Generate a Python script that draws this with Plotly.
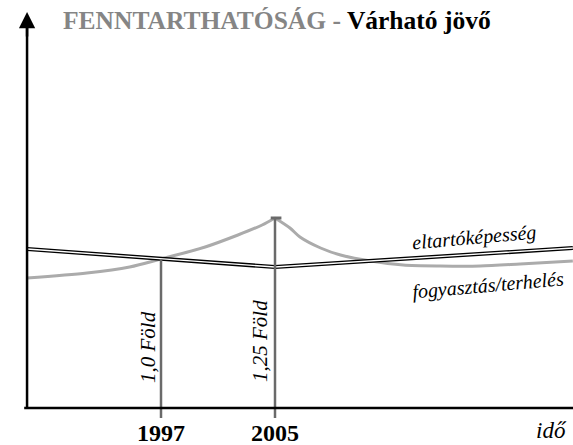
import plotly.graph_objects as go

# ---- data ----
cons_rise_years = [1987.6, 1991.8, 1994.8, 1997, 2000.1, 2002.4, 2004.1, 2005]
cons_rise_vals = [130, 135, 141, 149, 161, 173, 183, 190]
cons_fall_years = [2005, 2006.05, 2006.75, 2008.2, 2009.6, 2011.7, 2014.0, 2016.6, 2019.4, 2022.2, 2025.9]
cons_fall_vals = [190, 180, 171, 160, 153, 147, 143, 142, 142, 144, 147]
cap_years = [1987.6, 2005, 2025.9]
cap_vals = [159, 141, 160]
marker_years = [1997, 2005]
marker_tops = [149, 190]
marker_labels = ["1,0 Föld", "1,25 Föld"]
tick_labels = ["1997", "2005"]

# body margin is removed by the post script, so figure pixels == screen pixels
PXYR = 14.25
X0 = 1997 - 161 / PXYR
X1 = X0 + 573 / PXYR
Y1 = 408
Y0 = Y1 - 445
AXIS_X = 1987.6


def px(sx):
    return sx / 573


SERIF = "Liberation Serif, Times New Roman, serif"
GRAY_CURVE = "#ababab"
GRAY_LINE = "#6a6a6a"

fig = go.Figure()

for xs, ys in [(cons_rise_years, cons_rise_vals), (cons_fall_years, cons_fall_vals)]:
    fig.add_trace(go.Scatter(x=xs, y=ys, mode="lines",
                             line=dict(color=GRAY_CURVE, width=3, shape="spline", smoothing=0.8),
                             hoverinfo="skip", showlegend=False))

fig.add_trace(go.Scatter(x=cap_years, y=cap_vals, mode="lines",
                         line=dict(color="black", width=4), hoverinfo="skip", showlegend=False))
fig.add_trace(go.Scatter(x=cap_years, y=cap_vals, mode="lines",
                         line=dict(color="white", width=1.3), hoverinfo="skip", showlegend=False))

for yr, top in zip(marker_years, marker_tops):
    fig.add_trace(go.Scatter(x=[yr, yr], y=[top, -10], mode="lines",
                             line=dict(color=GRAY_LINE, width=2.5),
                             hoverinfo="skip", showlegend=False))
fig.add_trace(go.Scatter(x=[marker_years[1] - 0.3, marker_years[1] + 0.45],
                         y=[marker_tops[1], marker_tops[1]], mode="lines",
                         line=dict(color=GRAY_LINE, width=3),
                         hoverinfo="skip", showlegend=False))

shapes = [
    dict(type="line", xref="x", yref="y", x0=AXIS_X - 0.2, x1=X1, y0=0, y1=0,
         line=dict(color="black", width=2.5)),
    dict(type="line", xref="x", yref="y", x0=AXIS_X, x1=AXIS_X, y0=0, y1=380,
         line=dict(color="black", width=2.5)),
]

annotations = [
    dict(x=AXIS_X, y=396, ax=AXIS_X, ay=370, xref="x", yref="y", axref="x", ayref="y",
         text="", showarrow=True, arrowhead=2, arrowsize=1.3, arrowwidth=2.5, arrowcolor="black"),
    dict(x=px(61), y=388, xref="paper", yref="y", xanchor="left", yanchor="middle",
         text="<b><span style='color:#858585'>FENNTARTHATÓSÁG - </span><span style='color:black'>Várható jövő</span></b>",
         showarrow=False, font=dict(family=SERIF, size=25.5, color="black")),
    dict(x=px(551), y=408 - 430, xref="paper", yref="y", xanchor="center", yanchor="middle",
         text="<i>idő</i>", showarrow=False, font=dict(family=SERIF, size=23, color="black")),
    dict(x=px(474), y=408 - 237, xref="paper", yref="y", xanchor="center", yanchor="middle",
         text="<i>eltartóképesség</i>", textangle=-5, showarrow=False,
         font=dict(family=SERIF, size=20, color="black")),
    dict(x=px(488), y=408 - 285, xref="paper", yref="y", xanchor="center", yanchor="middle",
         text="<i>fogyasztás/terhelés</i>", textangle=-5, showarrow=False,
         font=dict(family=SERIF, size=20, color="black")),
]
for yr, lab in zip(marker_years, tick_labels):
    annotations.append(dict(x=yr, y=408 - 433, xref="x", yref="y", xanchor="center", yanchor="middle",
                            text="<b>" + lab + "</b>", showarrow=False,
                            font=dict(family=SERIF, size=24, color="black")))
label_pos = [(-13, 408 - 347), (-15, 408 - 341)]
for (dx, yc), lab, yr in zip(label_pos, marker_labels, marker_years):
    annotations.append(dict(x=yr, y=yc, xref="x", yref="y", xshift=dx, xanchor="center", yanchor="middle",
                            text="<i>" + lab + "</i>", textangle=-90, showarrow=False,
                            font=dict(family=SERIF, size=21, color="black")))

fig.update_layout(
    width=573, height=445,
    margin=dict(l=0, r=0, t=0, b=0),
    paper_bgcolor="white", plot_bgcolor="white",
    xaxis=dict(range=[X0, X1], visible=False, fixedrange=True),
    yaxis=dict(range=[Y0, Y1], visible=False, fixedrange=True),
    shapes=shapes, annotations=annotations, showlegend=False,
)

fig.write_html("out.html", config={"displayModeBar": False},
               post_script="document.body.style.margin='0';document.body.style.overflow='hidden';")
